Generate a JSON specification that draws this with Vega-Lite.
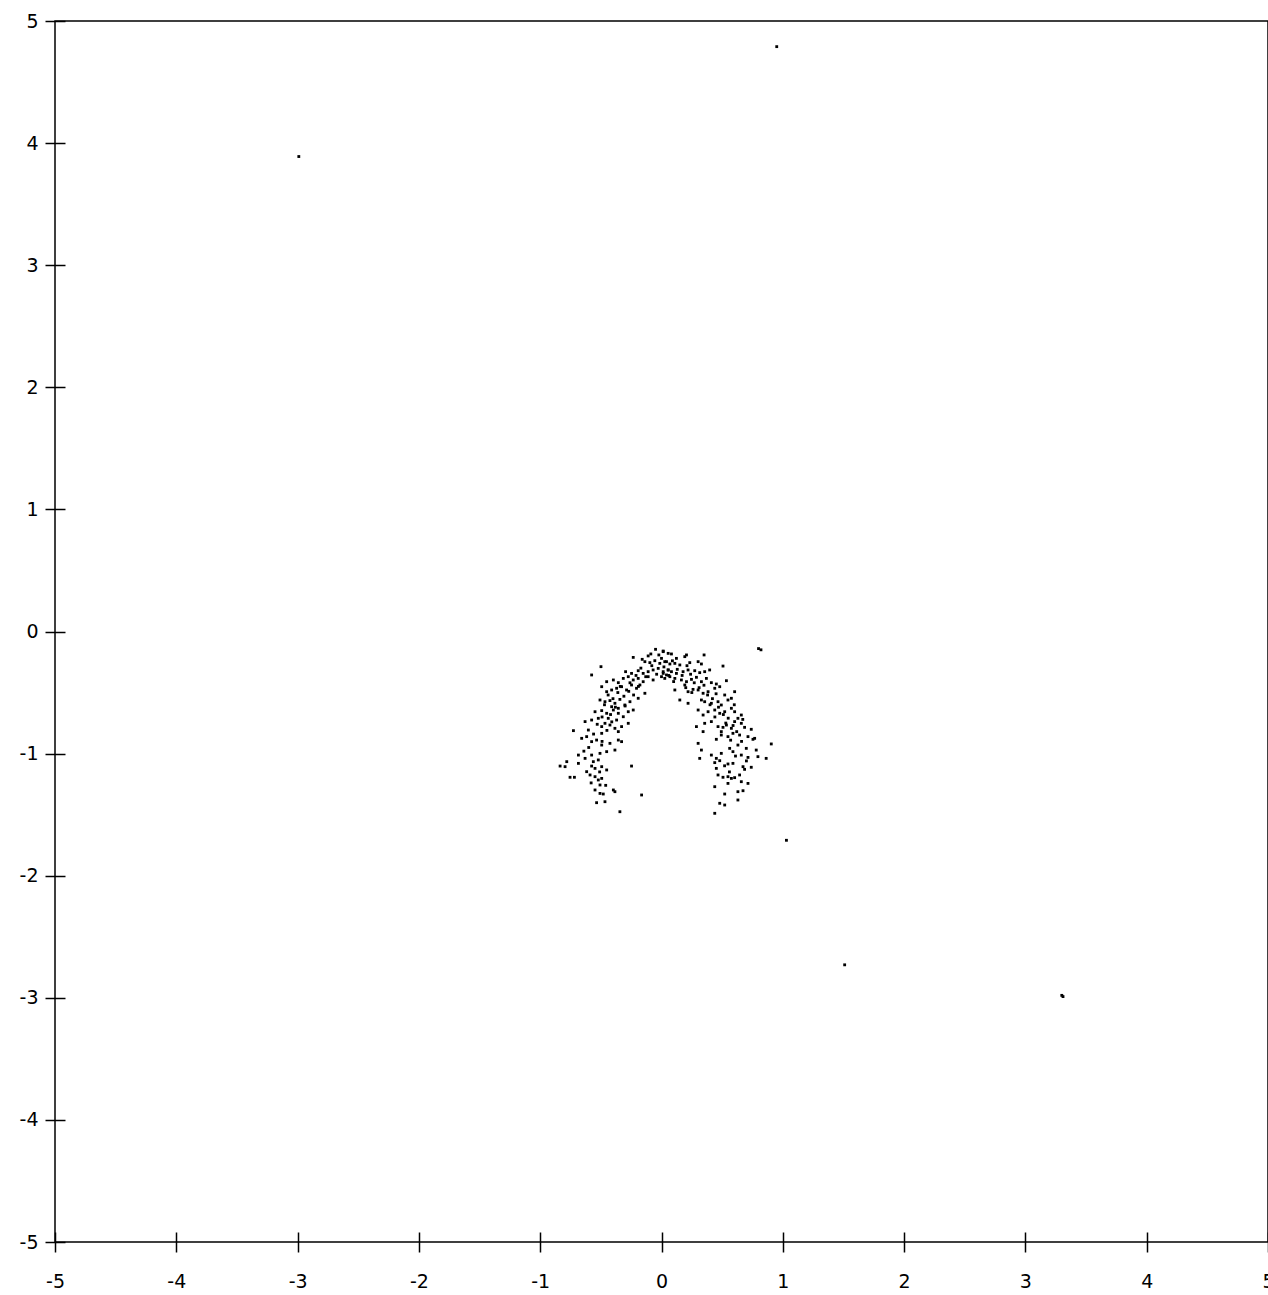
{
"$schema":"https://vega.github.io/schema/vega-lite/v6.json",
"autosize":{"type":"none"},
"padding":{"left":55,"top":21,"right":0,"bottom":53},
"width":1213,"height":1221,
"background":"white",
"config":{"view":{"stroke":"black","strokeWidth":1.5},"axis":{"grid":false}},
"data":{"values":[
{"x":0.95,"y":4.79},{"x":-2.99,"y":3.89},{"x":0.80,"y":-0.14},{"x":0.82,"y":-0.15},{"x":1.03,"y":-1.71},{"x":1.51,"y":-2.73},{"x":3.30,"y":-2.98},{"x":3.31,"y":-2.99},
{"x":-0.049,"y":-0.146},{"x":0.014,"y":-0.160},{"x":-0.088,"y":-0.184},{"x":-0.022,"y":-0.192},{"x":0.055,"y":-0.179},{"x":-0.233,"y":-0.212},{"x":-0.159,"y":-0.228},{"x":-0.137,"y":-0.247},{"x":-0.096,"y":-0.255},{"x":-0.055,"y":-0.239},{"x":-0.014,"y":-0.261},{"x":0.027,"y":-0.247},{"x":0.069,"y":-0.266},{"x":-0.499,"y":-0.288},{"x":-0.296,"y":-0.329},{"x":-0.247,"y":-0.343},{"x":-0.192,"y":-0.321},{"x":-0.151,"y":-0.343},{"x":-0.110,"y":-0.329},{"x":-0.069,"y":-0.315},{"x":-0.027,"y":-0.302},{"x":0.014,"y":-0.329},{"x":0.055,"y":-0.315},{"x":0.0,"y":-0.370},{"x":0.041,"y":-0.356},{"x":-0.576,"y":-0.356},{"x":-0.452,"y":-0.411},{"x":-0.397,"y":-0.397},{"x":-0.356,"y":-0.419},{"x":-0.315,"y":-0.384},{"x":-0.274,"y":-0.370},{"x":-0.233,"y":-0.397},{"x":-0.192,"y":-0.384},{"x":-0.151,"y":-0.411},{"x":-0.110,"y":-0.370},{"x":-0.069,"y":-0.397},{"x":-0.178,"y":-0.438},{"x":-0.452,"y":-0.493},{"x":-0.411,"y":-0.479},{"x":-0.370,"y":-0.465},{"x":-0.329,"y":-0.452},{"x":-0.288,"y":-0.479},{"x":-0.247,"y":-0.438},{"x":-0.206,"y":-0.465},{"x":-0.137,"y":-0.506},{"x":-0.493,"y":-0.452},{"x":-0.507,"y":-0.561},{"x":-0.466,"y":-0.575},{"x":-0.425,"y":-0.566},{"x":-0.384,"y":-0.588},{"x":-0.343,"y":-0.556},{"x":-0.302,"y":-0.602},{"x":-0.260,"y":-0.575},{"x":-0.192,"y":-0.547},{"x":-0.411,"y":-0.616},{"x":-0.356,"y":-0.629},{"x":-0.548,"y":-0.657},{"x":-0.493,"y":-0.648},{"x":-0.452,"y":-0.670},{"x":-0.397,"y":-0.643},{"x":-0.356,"y":-0.670},{"x":-0.315,"y":-0.698},{"x":-0.274,"y":-0.657},{"x":-0.233,"y":-0.643},{"x":-0.521,"y":-0.711},{"x":-0.439,"y":-0.711},{"x":-0.370,"y":-0.725},{"x":-0.630,"y":-0.738},{"x":-0.576,"y":-0.725},{"x":-0.493,"y":-0.779},{"x":-0.466,"y":-0.752},{"x":-0.425,"y":-0.766},{"x":-0.384,"y":-0.793},{"x":-0.329,"y":-0.779},{"x":-0.274,"y":-0.752},{"x":-0.603,"y":-0.807},{"x":-0.493,"y":-0.834},{"x":-0.356,"y":-0.820},{"x":-0.726,"y":-0.812},{"x":-0.658,"y":-0.875},{"x":-0.617,"y":-0.861},{"x":-0.576,"y":-0.902},{"x":-0.535,"y":-0.889},{"x":-0.493,"y":-0.930},{"x":-0.425,"y":-0.916},{"x":-0.356,"y":-0.889},{"x":-0.329,"y":-0.902},{"x":-0.384,"y":-0.971},{"x":-0.507,"y":-0.998},{"x":-0.452,"y":-0.984},{"x":-0.576,"y":-1.012},{"x":-0.685,"y":-1.012},{"x":-0.630,"y":-1.039},{"x":-0.562,"y":-1.066},{"x":-0.521,"y":-1.052},{"x":-0.836,"y":-1.102},{"x":-0.781,"y":-1.066},{"x":-0.795,"y":-1.107},{"x":-0.685,"y":-1.080},{"x":-0.576,"y":-1.102},{"x":-0.548,"y":-1.121},{"x":-0.493,"y":-1.107},{"x":-0.452,"y":-1.134},{"x":-0.247,"y":-1.102},{"x":-0.617,"y":-1.148},{"x":-0.754,"y":-1.194},{"x":-0.718,"y":-1.194},{"x":-0.589,"y":-1.175},{"x":-0.548,"y":-1.189},{"x":-0.521,"y":-1.216},{"x":-0.493,"y":-1.203},{"x":-0.507,"y":-1.257},{"x":-0.548,"y":-1.298},{"x":-0.507,"y":-1.326},{"x":-0.480,"y":-1.331},{"x":-0.397,"y":-1.298},{"x":-0.384,"y":-1.312},{"x":-0.164,"y":-1.339},{"x":-0.535,"y":-1.402},{"x":-0.466,"y":-1.394},{"x":-0.343,"y":-1.476},
{"x":0.014,"y":-0.165},{"x":0.082,"y":-0.184},{"x":0.123,"y":-0.220},{"x":0.192,"y":-0.206},{"x":0.206,"y":-0.192},{"x":0.351,"y":-0.192},{"x":0.041,"y":-0.247},{"x":0.110,"y":-0.261},{"x":0.151,"y":-0.274},{"x":0.233,"y":-0.255},{"x":0.302,"y":-0.247},{"x":0.329,"y":-0.266},{"x":0.055,"y":-0.315},{"x":0.014,"y":-0.343},{"x":0.082,"y":-0.329},{"x":0.123,"y":-0.343},{"x":0.178,"y":-0.329},{"x":0.219,"y":-0.315},{"x":0.274,"y":-0.321},{"x":0.315,"y":-0.337},{"x":0.356,"y":-0.329},{"x":0.397,"y":-0.315},{"x":0.507,"y":-0.283},{"x":0.027,"y":-0.384},{"x":0.069,"y":-0.370},{"x":0.110,"y":-0.384},{"x":0.164,"y":-0.397},{"x":0.206,"y":-0.411},{"x":0.247,"y":-0.392},{"x":0.288,"y":-0.375},{"x":0.329,"y":-0.411},{"x":0.370,"y":-0.384},{"x":0.411,"y":-0.419},{"x":0.452,"y":-0.430},{"x":0.535,"y":-0.403},{"x":0.192,"y":-0.438},{"x":0.110,"y":-0.479},{"x":0.219,"y":-0.493},{"x":0.260,"y":-0.474},{"x":0.302,"y":-0.479},{"x":0.343,"y":-0.506},{"x":0.384,"y":-0.493},{"x":0.439,"y":-0.465},{"x":0.480,"y":-0.452},{"x":0.521,"y":-0.520},{"x":0.603,"y":-0.493},{"x":0.151,"y":-0.561},{"x":0.219,"y":-0.588},{"x":0.329,"y":-0.561},{"x":0.356,"y":-0.575},{"x":0.411,"y":-0.588},{"x":0.466,"y":-0.575},{"x":0.493,"y":-0.602},{"x":0.548,"y":-0.561},{"x":0.576,"y":-0.547},{"x":0.302,"y":-0.643},{"x":0.343,"y":-0.684},{"x":0.384,"y":-0.657},{"x":0.439,"y":-0.643},{"x":0.480,"y":-0.670},{"x":0.521,"y":-0.657},{"x":0.576,"y":-0.629},{"x":0.603,"y":-0.657},{"x":0.658,"y":-0.684},{"x":0.630,"y":-0.711},{"x":0.288,"y":-0.779},{"x":0.356,"y":-0.752},{"x":0.411,"y":-0.738},{"x":0.466,"y":-0.779},{"x":0.507,"y":-0.785},{"x":0.535,"y":-0.766},{"x":0.576,"y":-0.793},{"x":0.603,"y":-0.738},{"x":0.658,"y":-0.752},{"x":0.685,"y":-0.785},{"x":0.740,"y":-0.801},{"x":0.343,"y":-0.820},{"x":0.493,"y":-0.820},{"x":0.302,"y":-0.916},{"x":0.452,"y":-0.883},{"x":0.493,"y":-0.848},{"x":0.548,"y":-0.861},{"x":0.589,"y":-0.834},{"x":0.644,"y":-0.848},{"x":0.713,"y":-0.861},{"x":0.754,"y":-0.883},{"x":0.768,"y":-0.875},{"x":0.630,"y":-0.930},{"x":0.562,"y":-0.957},{"x":0.699,"y":-0.957},{"x":0.905,"y":-0.921},{"x":0.329,"y":-0.971},{"x":0.411,"y":-1.012},{"x":0.493,"y":-0.998},{"x":0.589,"y":-0.984},{"x":0.658,"y":-1.012},{"x":0.713,"y":-1.031},{"x":0.781,"y":-0.971},{"x":0.795,"y":-1.025},{"x":0.863,"y":-1.039},{"x":0.315,"y":-1.039},{"x":0.452,"y":-1.039},{"x":0.439,"y":-1.074},{"x":0.480,"y":-1.058},{"x":0.548,"y":-1.085},{"x":0.589,"y":-1.080},{"x":0.672,"y":-1.107},{"x":0.685,"y":-1.129},{"x":0.740,"y":-1.112},{"x":0.452,"y":-1.121},{"x":0.466,"y":-1.175},{"x":0.507,"y":-1.194},{"x":0.548,"y":-1.189},{"x":0.576,"y":-1.203},{"x":0.603,"y":-1.197},{"x":0.644,"y":-1.175},{"x":0.713,"y":-1.244},{"x":0.658,"y":-1.230},{"x":0.548,"y":-1.244},{"x":0.439,"y":-1.271},{"x":0.521,"y":-1.331},{"x":0.630,"y":-1.312},{"x":0.672,"y":-1.304},{"x":0.480,"y":-1.407},{"x":0.521,"y":-1.421},{"x":0.630,"y":-1.380},{"x":0.439,"y":-1.489},
{"x":-0.44,"y":-0.52},{"x":-0.40,"y":-0.55},{"x":-0.47,"y":-0.60},{"x":-0.36,"y":-0.50},{"x":-0.31,"y":-0.53},{"x":-0.27,"y":-0.49},{"x":-0.23,"y":-0.52},{"x":-0.42,"y":-0.68},{"x":-0.38,"y":-0.62},{"x":-0.49,"y":-0.70},{"x":-0.53,"y":-0.76},{"x":-0.45,"y":-0.81},{"x":-0.41,"y":-0.74},{"x":-0.30,"y":-0.61},{"x":-0.26,"y":-0.42},{"x":-0.21,"y":-0.36},{"x":-0.17,"y":-0.30},{"x":-0.13,"y":-0.37},{"x":-0.08,"y":-0.28},{"x":-0.04,"y":-0.35},{"x":0.02,"y":-0.29},{"x":0.06,"y":-0.36},{"x":0.09,"y":-0.24},{"x":0.13,"y":-0.31},{"x":0.17,"y":-0.36},{"x":0.21,"y":-0.28},{"x":0.24,"y":-0.35},{"x":0.27,"y":-0.42},{"x":0.31,"y":-0.46},{"x":0.35,"y":-0.44},{"x":0.38,"y":-0.52},{"x":0.42,"y":-0.55},{"x":0.45,"y":-0.51},{"x":0.47,"y":-0.62},{"x":0.51,"y":-0.68},{"x":0.55,"y":-0.71},{"x":0.53,"y":-0.75},{"x":0.59,"y":-0.77},{"x":0.62,"y":-0.82},{"x":0.57,"y":-0.89},{"x":0.66,"y":-0.90},{"x":0.61,"y":-1.02},{"x":0.70,"y":-1.06},{"x":0.52,"y":-1.10},{"x":0.56,"y":-1.15},{"x":-0.60,"y":-0.95},{"x":-0.56,"y":-0.84},{"x":-0.64,"y":-0.98},{"x":-0.51,"y":-1.15},{"x":-0.58,"y":-1.24},{"x":-0.46,"y":-1.26},{"x":-0.49,"y":-0.90},{"x":-0.34,"y":-0.45},{"x":-0.19,"y":-0.45},{"x":0.00,"y":-0.22},{"x":-0.11,"y":-0.20},{"x":0.10,"y":-0.41},{"x":0.20,"y":-0.46},{"x":0.25,"y":-0.50},{"x":0.40,"y":-0.60},{"x":0.44,"y":-0.70},{"x":0.60,"y":-0.60},{"x":0.67,"y":-0.72}
]},
"mark":{"type":"square","filled":true,"color":"black","size":8,"opacity":1},
"encoding":{
"x":{"field":"x","type":"quantitative","scale":{"domain":[-5,5],"nice":false,"zero":false},
"axis":{"title":null,"values":[-5,-4,-3,-2,-1,0,1,2,3,4,5],"domain":false,"tickSize":20,"offset":-10,"tickColor":"black","tickWidth":1.5,"labelFont":"DejaVu Sans","labelFontSize":19,"labelColor":"black","labelPadding":20,"labelExpr":"'' + datum.value","labelOverlap":false,"labelBound":false,"labelFlush":false}},
"y":{"field":"y","type":"quantitative","scale":{"domain":[-5,5],"nice":false,"zero":false},
"axis":{"title":null,"values":[-5,-4,-3,-2,-1,0,1,2,3,4,5],"domain":false,"tickSize":20,"offset":-10,"tickColor":"black","tickWidth":1.5,"labelFont":"DejaVu Sans","labelFontSize":19,"labelColor":"black","labelPadding":7,"labelExpr":"'' + datum.value","labelOverlap":false,"labelBound":false,"labelFlush":false}}
}
}
